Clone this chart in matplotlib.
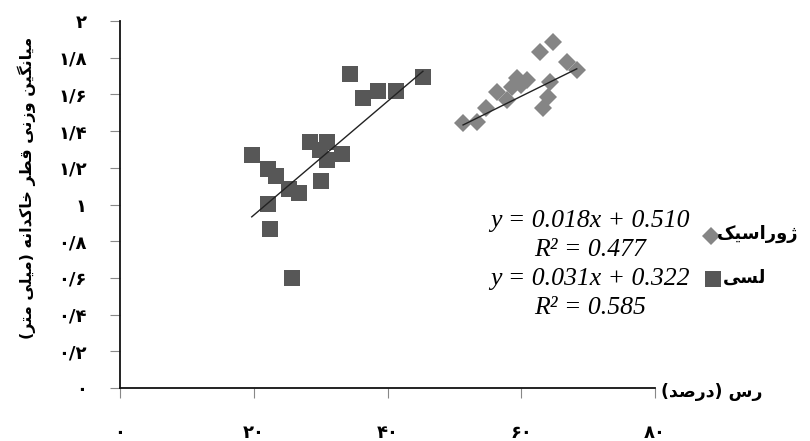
import matplotlib
matplotlib.use("Agg")
import matplotlib.pyplot as plt
import numpy as np

# ---------------- data ----------------
loess_x = [19.7, 22.2, 23.3, 25.2, 26.8, 22.2, 22.5, 25.7, 30.0,
           28.4, 30.9, 33.2, 30.9, 29.9, 34.4, 36.4, 38.6, 41.3, 45.3]
loess_y = [1.268, 1.193, 1.155, 1.083, 1.061, 1.001, 0.865, 0.599, 1.130,
           1.342, 1.342, 1.275, 1.243, 1.297, 1.711, 1.579, 1.620, 1.620, 1.697]

jur_x = [51.3, 53.4, 54.7, 56.3, 57.8, 59.3, 60.8, 62.8, 64.8,
         64.3, 64.0, 63.3, 66.8, 68.3, 59.9, 58.6]
jur_y = [1.442, 1.451, 1.524, 1.615, 1.569, 1.688, 1.679, 1.833, 1.887,
         1.669, 1.588, 1.524, 1.778, 1.733, 1.650, 1.640]

loess_fit = (0.031, 0.322)
jur_fit = (0.018, 0.510)

x_ticks = [0, 20, 40, 60, 80]
x_tick_labels = ["۰", "۲۰", "۴۰", "۶۰", "۸۰"]
y_ticks = [0, 0.2, 0.4, 0.6, 0.8, 1.0, 1.2, 1.4, 1.6, 1.8, 2.0]
y_tick_labels = ["۰", "۰/۲", "۰/۴", "۰/۶", "۰/۸", "۱", "۱/۲", "۱/۴", "۱/۶", "۱/۸", "۲"]

x_label = "رس (درصد)"
y_label = "میانگین وزنی قطر خاکدانه (میلی متر)"
legend_jur = "ژوراسیک"
legend_loess = "لسی"
eq_lines = ["y = 0.018x + 0.510", "R² = 0.477", "y = 0.031x + 0.322", "R² = 0.585"]

# ---------------- minimal Persian shaping ----------------
FORMS = {
    'ا': ('\uFE8D', '\uFE8E'), 'د': ('\uFEA9', '\uFEAA'), 'ر': ('\uFEAD', '\uFEAE'),
    'ز': ('\uFEAF', '\uFEB0'), 'ژ': ('\uFB8A', '\uFB8B'), 'و': ('\uFEED', '\uFEEE'),
    'ت': ('\uFE95', '\uFE96', '\uFE97', '\uFE98'), 'خ': ('\uFEA5', '\uFEA6', '\uFEA7', '\uFEA8'),
    'س': ('\uFEB1', '\uFEB2', '\uFEB3', '\uFEB4'), 'ص': ('\uFEB9', '\uFEBA', '\uFEBB', '\uFEBC'),
    'ط': ('\uFEC1', '\uFEC2', '\uFEC3', '\uFEC4'), 'ق': ('\uFED5', '\uFED6', '\uFED7', '\uFED8'),
    'ل': ('\uFEDD', '\uFEDE', '\uFEDF', '\uFEE0'), 'م': ('\uFEE1', '\uFEE2', '\uFEE3', '\uFEE4'),
    'ن': ('\uFEE5', '\uFEE6', '\uFEE7', '\uFEE8'), 'ه': ('\uFEE9', '\uFEEA', '\uFEEB', '\uFEEC'),
    'ی': ('\uFBFC', '\uFBFD', '\uFBFE', '\uFBFF'), 'ک': ('\uFB8E', '\uFB8F', '\uFB90', '\uFB91'),
    'گ': ('\uFB92', '\uFB93', '\uFB94', '\uFB95'),
}


def shape(text):
    out = []
    n = len(text)
    for i, c in enumerate(text):
        f = FORMS.get(c)
        if f is None:
            out.append(c)
            continue
        prev = text[i - 1] if i > 0 else None
        nxt = text[i + 1] if i < n - 1 else None
        join_prev = prev is not None and prev in FORMS and len(FORMS[prev]) == 4
        join_next = len(f) == 4 and nxt is not None and nxt in FORMS
        if join_prev and join_next:
            out.append(f[3])
        elif join_prev:
            out.append(f[1])
        elif join_next:
            out.append(f[2])
        else:
            out.append(f[0])
    vis = ''.join(reversed(out))
    vis = vis.translate(str.maketrans({'(': ')', ')': '('}))
    return vis


FA = dict(family='DejaVu Sans', fontweight='bold')

# ---------------- figure ----------------
fig = plt.figure(figsize=(8.1, 4.41), dpi=100)
ax = fig.add_axes([120 / 810, 53 / 441, 535 / 810, 367 / 441])

SQ_MS, D_MS = 12.2, 9.6
SQ_C, D_C = '#575757', '#858585'

ax.plot(loess_x, loess_y, linestyle='none', marker='s', markersize=SQ_MS,
        color=SQ_C, markeredgewidth=0, zorder=2)
ax.plot(jur_x, jur_y, linestyle='none', marker='D', markersize=D_MS,
        color=D_C, markeredgewidth=0, zorder=2)

for xs, (m, b) in ((loess_x, loess_fit), (jur_x, jur_fit)):
    xx = np.array([min(xs), max(xs)])
    ax.plot(xx, m * xx + b, color='#222222', linewidth=1.0, zorder=3)

ax.set_xlim(0, 80)
ax.set_ylim(0, 2)
ax.set_xticks(x_ticks)
ax.set_xticklabels(x_tick_labels, fontsize=13, **FA)
ax.set_yticks(y_ticks)
ax.set_yticklabels(y_tick_labels, fontsize=13, **FA)
ax.tick_params(axis='x', direction='out', length=7, width=0.8, color='#888888', pad=19)
ax.tick_params(axis='y', direction='out', length=7, width=0.8, color='#888888', pad=17)

for s in ('top', 'right'):
    ax.spines[s].set_visible(False)
for s in ('left', 'bottom'):
    ax.spines[s].set_linewidth(1.3)
    ax.spines[s].set_color('#111111')

fig.text(27 / 810, 1 - 188 / 441, shape(y_label), rotation=90, ha='center', va='center',
         fontsize=11.5, **FA)
fig.text(712 / 810, 1 - 392 / 441, shape(x_label), ha='center', va='center', fontsize=12.5, **FA)

# equations
eq_y = [221, 250, 279, 308]
for t, yy in zip(eq_lines, eq_y):
    fig.text(590 / 810, 1 - yy / 441, t, ha='center', va='center', fontsize=18.5,
             family='Liberation Serif', style='italic')

# legend (manual)
ax.plot([88.4], [(388 - 236) / 183.5], marker='D', markersize=D_MS, color=D_C,
        markeredgewidth=0, clip_on=False, linestyle='none')
ax.plot([88.7], [(388 - 279) / 183.5], marker='s', markersize=SQ_MS, color=SQ_C,
        markeredgewidth=0, clip_on=False, linestyle='none')
fig.text(717 / 810, 1 - 234 / 441, shape(legend_jur), ha='left', va='center', fontsize=13, **FA)
fig.text(723 / 810, 1 - 278 / 441, shape(legend_loess), ha='left', va='center', fontsize=13, **FA)

fig.savefig('out.png', dpi=100)
